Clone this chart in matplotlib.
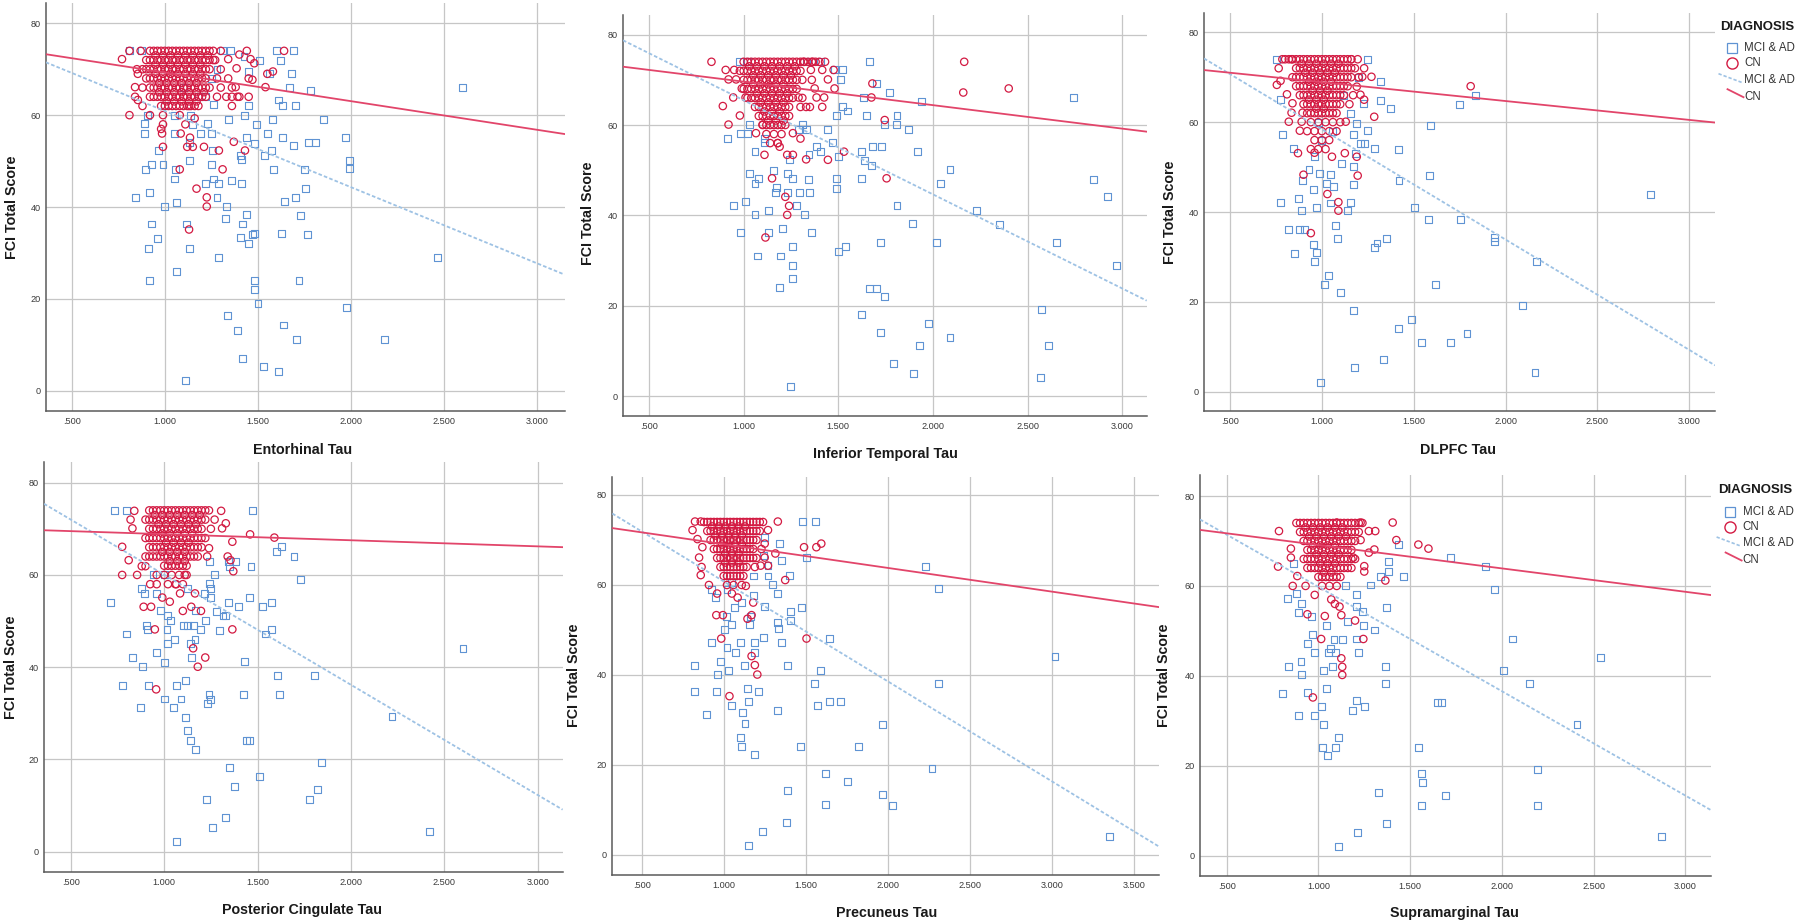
import numpy as np
import matplotlib
matplotlib.use("Agg")
import matplotlib.pyplot as plt
from matplotlib.lines import Line2D

plt.rcParams['font.family'] = ['Liberation Sans', 'DejaVu Sans']

W, H = 1800, 923

# ---------------- data ----------------
x_labels = ["Entorhinal Tau", "Inferior Temporal Tau", "DLPFC Tau",
            "Posterior Cingulate Tau", "Precuneus Tau", "Supramarginal Tau"]
y_label = "FCI Total Score"
legend_title = "DIAGNOSIS"
groups = ["MCI & AD", "CN"]
y_ticks = [0, 20, 40, 60, 80]
x_ticks_a = [0.5, 1.0, 1.5, 2.0, 2.5, 3.0]
x_ticks_b = [0.5, 1.0, 1.5, 2.0, 2.5, 3.0, 3.5]

# Panel 1: Entorhinal
mci_1 = [(2.60,66.1),(2.465,29.0),(2.18,11.2),(1.977,18.1),(1.99,48.4),(1.99,50.2),(1.97,55.1),(1.85,59.0),
         (1.78,65.3),(1.81,54.1),(1.77,54.1),(1.75,48.2),(1.755,44.0),(1.73,38.2),(1.765,34.1),(1.72,23.9),
         (1.705,11.2),(1.70,42.1),(1.69,53.3),(1.70,62.0),(1.68,69.0),(1.69,74.0),(1.67,66.1),(1.636,14.3),
         (1.625,34.3),(1.64,41.1),(1.63,55.1),(1.63,62.0),(1.61,63.3),(1.61,4.1),(1.585,48.2),(1.57,52.2),
         (1.58,59.0),(1.62,71.8),(1.60,74.0),(1.55,56.0),(1.53,5.2),(1.535,51.3),(1.50,19.0),(1.48,22.0),
         (1.48,23.9),(1.48,34.3),(1.49,58.0),(1.48,53.9),(1.51,71.8),(1.47,34.0),(1.45,32.1),(1.44,38.3),
         (1.415,7.0),(1.405,33.3),(1.415,36.3),(1.41,45.2),(1.41,50.4),(1.405,51.3),(1.44,55.1),(1.43,60.0),
         (1.45,62.0),(1.39,13.2),(1.36,45.7),(1.335,16.3),(1.33,40.1),(1.325,37.4),(1.29,29.0),(1.28,42.1),
         (1.29,45.2),(1.26,46.1),(1.25,49.3),(1.25,56.0),(1.257,52.3),(1.22,45.2),(1.13,50.2),(1.13,31.0),
         (1.117,36.3),(1.11,2.2),(1.06,25.9),(1.065,41.0),(1.05,46.1),(1.055,48.2),(0.996,40.1),(0.99,49.3),
         (0.967,52.3),(0.96,33.2),(0.93,36.3),(0.92,43.1),(0.91,31.0),(0.92,23.9),(0.93,49.3),(0.897,48.2),
         (0.84,42.1),(0.89,58.1),(0.89,56.0),(0.907,60.0),(1.14,60.0),(1.13,54.0),(1.19,56.0),(1.15,58.0),
         (1.05,56.0),(1.35,74.0),(1.31,74.0),(1.34,59.0),(1.26,62.4),(1.22,64.0),(1.23,58.2),(0.81,74.0),
         (0.876,74.0),(1.45,69.6),(1.56,69.0),(1.425,72.7),(1.00,62.0),(1.05,60.0),(1.18,64.0),(1.25,68.0),
         (1.28,70.0),(1.10,66.0)]
cn_1 = [(0.77,72.2),(0.81,74.0),(0.87,74.0),(0.84,66.1),(0.84,64.0),(0.855,63.3),(0.88,62.0),(0.81,60.0),
        (0.85,70.0),(0.855,69.0),(0.92,60.0),(0.99,60.0),(0.99,58.0),(0.985,56.0),(0.99,53.1),(0.98,57.0),
        (1.08,60.0),(1.085,56.0),(1.08,48.2),(1.12,53.1),(1.135,55.1),(1.11,58.0),(1.10,64.0),(1.13,62.0),
        (1.15,53.1),(1.21,53.1),(1.16,59.3),(1.17,44.0),(1.225,42.1),(1.225,40.1),(1.13,35.1),(1.29,52.3),
        (1.31,48.2),(1.37,54.2),(1.43,52.3),(1.36,62.0),(1.36,64.0),(1.39,64.0),(1.45,64.0),(1.38,66.1),
        (1.45,68.0),(1.47,67.7),(1.55,69.0),(1.58,69.5),(1.54,66.1),(1.44,74.0),(1.40,73.2),(1.46,72.2),
        (1.48,71.3),(1.64,74.0),(1.385,70.2),(1.34,72.2),(1.30,74.0),(1.26,74.0),(1.27,72.0)]
cn_rows_1 = {
    74: [0.92,0.94,0.96,0.98,1.00,1.02,1.04,1.06,1.08,1.10,1.12,1.14,1.16,1.18,1.20,1.22,1.24],
    73: [0.95,0.99,1.03,1.07,1.11,1.15,1.19,1.23],
    72: [0.90,0.92,0.94,0.96,0.98,1.00,1.02,1.04,1.06,1.08,1.10,1.12,1.14,1.16,1.18,1.20,1.22,1.24,1.26],
    71: [0.95,0.99,1.03,1.07,1.11,1.15,1.19],
    70: [0.88,0.90,0.92,0.94,0.96,0.98,1.00,1.02,1.04,1.06,1.08,1.10,1.12,1.14,1.16,1.18,1.20,1.22,1.24,1.30],
    69: [0.95,0.99,1.03,1.07,1.11,1.15,1.19],
    68: [0.90,0.92,0.94,0.96,0.98,1.00,1.02,1.04,1.06,1.08,1.10,1.12,1.14,1.16,1.18,1.20,1.22,1.28,1.34],
    67: [0.97,1.01,1.05,1.09,1.13,1.17],
    66: [0.88,0.92,0.94,0.96,0.98,1.00,1.02,1.04,1.06,1.08,1.10,1.12,1.14,1.16,1.18,1.20,1.22,1.24,1.30,1.36],
    65: [0.97,1.01,1.05,1.09,1.13,1.17,1.21],
    64: [0.92,0.94,0.96,0.98,1.00,1.02,1.04,1.06,1.08,1.10,1.12,1.14,1.16,1.18,1.20,1.22,1.28,1.33,1.40],
    63: [1.01,1.05,1.09,1.13,1.17],
    62: [0.98,1.00,1.02,1.04,1.06,1.08,1.10,1.12,1.14,1.16,1.18]}
fit_mci_1 = [(0.5, 69.2), (3.0, 27.7)]
fit_cn_1 = [(0.5, 72.4), (3.0, 56.8)]

# Panel 2: Inferior Temporal
mci_2 = [(2.74,66.1),(2.85,48.0),(2.92,44.1),(2.97,29.0),(2.65,34.0),(2.61,11.1),(2.575,19.2),(2.57,4.1),
         (2.35,38.0),(2.23,41.0),(2.09,50.2),(2.04,47.1),(2.02,34.0),(1.975,16.1),(2.09,13.0),(1.93,11.1),
         (1.895,5.0),(1.89,38.1),(1.92,54.1),(1.94,65.2),(1.87,59.0),(1.81,42.1),(1.81,62.1),(1.805,60.1),
         (1.745,60.1),(1.77,67.2),(1.79,7.1),(1.745,22.1),(1.725,14.1),(1.725,34.0),(1.70,23.8),(1.665,23.8),
         (1.73,55.2),(1.68,55.2),(1.675,51.1),(1.64,52.1),(1.62,54.1),(1.62,18.1),(1.62,48.2),(1.65,62.1),
         (1.665,74.0),(1.70,69.2),(1.635,66.1),(1.54,33.1),(1.50,32.0),(1.49,46.0),(1.49,48.2),(1.50,53.1),
         (1.47,56.1),(1.55,63.1),(1.52,64.2),(1.49,62.1),(1.51,70.1),(1.52,72.2),(1.48,72.2),(1.445,59.0),
         (1.405,54.1),(1.385,55.2),(1.36,36.2),(1.35,45.1),(1.345,53.4),(1.34,48.0),(1.33,59.0),(1.31,60.1),
         (1.32,40.1),(1.28,42.1),(1.257,26.1),(1.26,29.0),(1.26,33.1),(1.247,2.1),(1.295,45.1),(1.23,45.1),
         (1.26,48.2),(1.23,49.2),(1.24,52.3),(1.205,37.1),(1.195,31.0),(1.19,24.0),(1.17,45.1),(1.175,46.2),
         (1.16,50.0),(1.13,41.0),(1.13,36.2),(1.075,31.0),(1.06,40.1),(1.06,47.1),(1.03,49.2),(1.08,48.2),
         (1.01,43.0),(0.985,36.2),(0.945,42.1),(0.915,57.0),(0.985,58.2),(1.02,58.2),(1.03,60.1),(1.06,54.1),
         (1.11,56.1),(1.11,57.0),(1.29,59.0),(0.98,74.0),(1.02,74.0),(1.405,74.0),(1.33,74.0)]
cn_2 = [(0.83,74.0),(0.905,72.2),(0.95,72.2),(0.92,70.1),(0.96,70.1),(0.945,66.1),(0.89,64.2),(0.98,62.1),
        (0.92,60.1),(0.99,68.1),(1.01,66.1),(1.065,58.2),(1.11,53.4),(1.10,60.1),(1.15,48.2),(1.18,56.0),
        (1.19,55.2),(1.115,35.1),(1.22,44.1),(1.24,42.1),(1.23,40.1),(1.23,53.4),(1.26,53.4),(1.30,57.0),
        (1.33,52.4),(1.445,52.3),(1.26,58.2),(1.33,64.0),(1.35,64.0),(1.29,66.1),(1.385,66.1),(1.425,66.1),
        (1.415,64.0),(1.375,68.1),(1.48,68.1),(1.445,70.1),(1.415,72.2),(1.355,72.2),(1.475,72.2),(1.43,74.0),
        (1.365,74.0),(1.315,74.0),(1.53,54.1),(1.675,66.1),(1.68,69.2),(1.745,61.1),(1.755,48.2),(2.16,67.2),
        (2.165,74.0),(2.40,68.1)]
cn_rows_2 = {
    74: [1.00,1.02,1.04,1.06,1.08,1.10,1.12,1.14,1.16,1.18,1.20,1.22,1.24,1.26,1.28,1.30,1.32,1.34,1.36,1.38,1.40],
    73: [1.03,1.07,1.11,1.15,1.19,1.23,1.27],
    72: [0.98,1.00,1.02,1.04,1.06,1.08,1.10,1.12,1.14,1.16,1.18,1.20,1.22,1.24,1.26,1.28,1.30],
    71: [1.05,1.09,1.13,1.17,1.21,1.25],
    70: [1.00,1.02,1.04,1.06,1.08,1.10,1.12,1.14,1.16,1.18,1.20,1.22,1.24,1.26,1.28,1.31,1.36],
    69: [1.05,1.09,1.13,1.17,1.21],
    68: [1.00,1.02,1.04,1.06,1.08,1.10,1.12,1.14,1.16,1.18,1.20,1.22,1.24,1.26,1.28],
    67: [1.07,1.11,1.15,1.19,1.23],
    66: [1.02,1.04,1.06,1.08,1.10,1.12,1.14,1.16,1.18,1.20,1.22,1.24,1.26,1.31],
    65: [1.09,1.13,1.17,1.21],
    64: [1.06,1.08,1.10,1.12,1.14,1.16,1.18,1.20,1.22,1.24,1.30],
    63: [1.11,1.15,1.19],
    62: [1.08,1.10,1.12,1.14,1.16,1.18,1.20,1.22,1.24],
    61: [1.13,1.17,1.21],
    60: [1.10,1.12,1.14,1.16,1.18,1.20,1.22],
    58: [1.12,1.16,1.20],
    56: [1.14,1.18]}
fit_mci_2 = [(0.5, 75.9), (3.0, 23.8)]
fit_cn_2 = [(0.5, 72.2), (3.0, 59.2)]

# Panel 3: DLPFC
mci_3 = [(2.79,44.0),(2.17,29.0),(2.16,4.2),(2.09,19.1),(1.94,34.3),(1.94,33.5),(1.79,13.0),(1.755,38.3),
         (1.75,64.0),(1.835,66.0),(1.70,11.0),(1.62,23.9),(1.585,48.1),(1.59,59.2),(1.58,38.3),(1.54,11.0),
         (1.49,16.0),(1.505,41.1),(1.42,47.1),(1.415,54.0),(1.415,14.0),(1.375,63.1),(1.32,64.9),(1.32,69.0),
         (1.285,54.2),(1.35,34.0),(1.30,33.1),(1.285,32.0),(1.335,7.1),(1.18,5.3),(1.17,18.0),(1.10,22.1),
         (1.035,25.9),(1.015,23.9),(0.995,2.1),(0.96,29.0),(0.97,31.0),(0.955,32.8),(0.85,30.8),(0.82,36.2),
         (0.88,36.2),(0.905,36.0),(0.775,42.1),(0.875,43.1),(0.89,40.3),(0.97,41.0),(1.075,37.1),(1.087,34.1),
         (1.045,42.0),(1.14,40.3),(1.155,42.1),(1.17,46.2),(0.955,45.1),(0.895,47.1),(0.93,49.4),(1.025,46.4),
         (1.045,48.3),(1.17,50.1),(1.185,53.1),(0.785,57.2),(0.775,65.0),(0.845,54.2),(1.23,55.2),(1.21,55.3),
         (1.25,58.1),(1.19,59.7),(1.17,57.2),(1.225,64.1),(1.155,62.0),(1.25,74.0),(0.755,74.0),(1.105,50.9),
         (1.065,45.7),(0.985,48.6),(0.96,52.3),(1.00,56.0),(1.06,58.0),(0.98,60.0),(1.12,66.0),(1.20,70.0)]
cn_3 = [(0.765,72.0),(0.755,68.3),(0.775,69.2),(0.81,66.2),(0.84,64.2),(0.82,60.1),(0.835,62.1),(0.895,62.1),
        (0.89,60.1),(0.88,58.1),(0.87,53.1),(0.96,53.2),(0.90,48.3),(0.94,35.3),(1.055,52.3),(1.125,53.1),
        (1.195,48.1),(1.19,52.3),(1.09,42.2),(1.09,40.3),(1.03,44.0),(1.13,60.1),(1.285,61.2),(1.21,66.1),
        (1.23,65.0),(1.19,67.9),(1.22,70.1),(1.23,72.0),(1.27,70.1),(1.195,74.0),(1.16,74.0),(1.81,68.0),
        (0.785,74.0),(0.835,74.0)]
cn_rows_3 = {
    74: [0.80,0.82,0.84,0.86,0.88,0.90,0.92,0.94,0.96,0.98,1.00,1.02,1.04,1.06,1.08,1.10,1.12,1.14,1.16],
    73: [0.89,0.93,0.97,1.01,1.05,1.09],
    72: [0.86,0.88,0.90,0.92,0.94,0.96,0.98,1.00,1.02,1.04,1.06,1.08,1.10,1.12,1.14,1.16,1.18],
    71: [0.91,0.95,0.99,1.03,1.07],
    70: [0.84,0.86,0.88,0.90,0.92,0.94,0.96,0.98,1.00,1.02,1.04,1.06,1.08,1.10,1.12,1.14,1.16,1.20],
    69: [0.93,0.97,1.01,1.05],
    68: [0.86,0.88,0.90,0.92,0.94,0.96,0.98,1.00,1.02,1.04,1.06,1.08,1.10,1.12,1.14],
    67: [0.95,0.99,1.03],
    66: [0.88,0.90,0.92,0.94,0.96,0.98,1.00,1.02,1.04,1.06,1.08,1.10,1.12,1.17],
    65: [0.93,0.97,1.01],
    64: [0.90,0.92,0.94,0.96,0.98,1.00,1.02,1.04,1.06,1.08,1.10,1.15],
    63: [0.97,1.01],
    62: [0.92,0.94,0.96,0.98,1.00,1.02,1.04,1.06,1.08],
    60: [0.94,0.98,1.02,1.06,1.10],
    58: [0.92,0.96,1.00,1.04,1.08],
    56: [0.96,1.00,1.04],
    54: [0.94,0.98,1.02]}
fit_mci_3 = [(0.5, 70.7), (3.0, 9.3)]
fit_cn_3 = [(0.5, 71.0), (3.0, 60.5)]

# Panel 4: Posterior Cingulate
mci_4 = [(2.60,44.1),(2.22,29.3),(2.42,4.3),(1.84,19.3),(1.82,13.4),(1.78,11.3),(1.805,38.1),(1.73,59.0),
         (1.695,64.1),(1.63,66.1),(1.60,65.0),(1.62,34.1),(1.605,38.1),(1.575,54.0),(1.575,48.2),(1.54,47.2),
         (1.525,53.1),(1.51,16.3),(1.465,61.9),(1.455,55.1),(1.475,73.9),(1.44,24.2),(1.455,24.2),(1.43,41.2),
         (1.425,34.1),(1.375,14.2),(1.35,18.2),(1.33,7.4),(1.345,54.0),(1.35,61.9),(1.345,63.0),(1.33,51.3),
         (1.26,5.3),(1.225,11.3),(1.25,32.9),(1.24,34.1),(1.23,32.2),(1.22,50.2),(1.25,55.1),(1.27,60.1),
         (1.245,58.2),(1.245,62.9),(1.17,22.2),(1.14,24.2),(1.125,26.2),(1.115,29.0),(1.115,37.2),(1.09,33.1),
         (1.065,36.1),(1.065,2.3),(1.05,31.2),(1.00,33.1),(1.00,41.0),(0.96,43.1),(0.915,36.1),(0.875,31.2),
         (0.885,40.1),(0.83,42.1),(0.775,36.1),(0.80,47.2),(0.715,54.0),(0.735,73.9),(0.80,73.9),(0.91,48.2),
         (0.905,49.1),(0.88,57.1),(0.895,56.0),(0.96,56.0),(0.98,52.2),(1.02,51.3),(1.035,50.2),(1.015,48.2),
         (1.02,45.2),(1.055,46.1),(1.105,49.1),(1.125,49.1),(1.14,45.2),(1.165,46.1),(1.155,49.1),(1.197,48.2),
         (1.17,52.2),(1.217,56.0),(1.248,57.1),(1.145,42.1),(1.125,57.1),(1.295,48.0),(1.315,51.1),(1.28,52.0),
         (1.38,63.0),(1.40,53.1),(1.00,60.0),(0.94,60.0)]
cn_4 = [(0.84,73.9),(0.82,72.0),(0.83,70.1),(0.775,66.1),(0.81,63.2),(0.88,61.9),(0.90,61.9),(0.775,60.0),
        (0.855,60.0),(0.89,53.1),(0.93,53.1),(0.957,35.2),(0.95,48.2),(0.925,58.0),(0.96,58.0),(0.99,55.1),
        (1.03,54.2),(1.085,56.0),(1.10,58.0),(1.11,60.0),(1.065,58.0),(1.10,52.2),(1.145,53.1),(1.165,56.0),
        (1.155,44.1),(1.22,42.1),(1.18,40.1),(1.197,52.2),(1.23,64.0),(1.24,65.8),(1.27,72.0),(1.305,73.9),
        (1.31,70.1),(1.33,71.2),(1.34,64.0),(1.355,63.2),(1.37,60.8),(1.365,48.2),(1.365,67.2),(1.46,68.8),
        (1.59,68.1)]
cn_rows_4 = {
    74: [0.92,0.94,0.96,0.98,1.00,1.02,1.04,1.06,1.08,1.10,1.12,1.14,1.16,1.18,1.20,1.22,1.24],
    73: [0.95,0.99,1.03,1.07,1.11,1.15,1.19],
    72: [0.90,0.92,0.94,0.96,0.98,1.00,1.02,1.04,1.06,1.08,1.10,1.12,1.14,1.16,1.18,1.20,1.22],
    71: [0.97,1.01,1.05,1.09,1.13,1.17],
    70: [0.92,0.94,0.96,0.98,1.00,1.02,1.04,1.06,1.08,1.10,1.12,1.14,1.16,1.18,1.20,1.25],
    69: [0.99,1.03,1.07,1.11,1.15],
    68: [0.90,0.92,0.94,0.96,0.98,1.00,1.02,1.04,1.06,1.08,1.10,1.12,1.14,1.16,1.18,1.20,1.22],
    67: [1.01,1.05,1.09,1.13],
    66: [0.92,0.94,0.96,0.98,1.00,1.02,1.04,1.06,1.08,1.10,1.12,1.14,1.16,1.18,1.20],
    65: [0.99,1.03,1.07,1.11],
    64: [0.90,0.92,0.94,0.96,0.98,1.00,1.02,1.04,1.06,1.08,1.10,1.12,1.14,1.16,1.18],
    63: [1.03,1.07,1.11],
    62: [1.00,1.02,1.04,1.06,1.08,1.10,1.12],
    60: [0.96,1.00,1.04,1.08,1.12],
    58: [1.02,1.06]}
fit_mci_4 = [(0.5, 72.0), (3.0, 12.3)]
fit_cn_4 = [(0.5, 69.5), (3.0, 66.2)]

# Panel 5: Precuneus
mci_5 = [(3.35,4.2),(3.02,44.2),(2.31,59.2),(2.31,38.1),(2.23,64.1),(2.27,19.3),(2.03,11.1),(1.97,13.4),
         (1.97,29.1),(1.82,24.1),(1.755,16.3),(1.71,34.2),(1.645,34.2),(1.62,18.2),(1.62,11.3),(1.57,33.2),
         (1.59,41.0),(1.555,38.1),(1.645,48.1),(1.47,24.1),(1.475,55.0),(1.505,66.1),(1.48,74.1),(1.56,74.1),
         (1.405,54.1),(1.41,52.2),(1.40,62.2),(1.39,42.2),(1.39,14.3),(1.385,7.3),(1.33,32.2),(1.35,47.2),
         (1.335,50.3),(1.33,51.6),(1.33,58.1),(1.30,60.2),(1.35,65.4),(1.34,69.2),(1.27,62.0),(1.235,5.3),
         (1.24,48.3),(1.25,55.3),(1.215,36.3),(1.19,45.1),(1.185,22.3),(1.15,2.2),(1.13,29.2),(1.117,31.6),
         (1.15,34.2),(1.145,37.1),(1.11,24.1),(1.105,26.2),(1.125,42.2),(1.05,33.2),(1.03,41.1),(0.98,43.1),
         (0.965,40.1),(0.955,36.3),(0.895,31.2),(0.82,42.2),(0.82,36.3),(0.925,47.2),(1.02,46.1),(1.07,45.1),
         (1.10,47.2),(1.19,47.2),(1.005,50.1),(1.05,51.3),(1.155,51.3),(1.165,53.1),(1.015,53.1),(1.065,55.0),
         (1.11,56.1),(1.18,57.6),(0.95,57.2),(0.925,59.1),(1.02,59.1),(1.05,60.5),(1.18,62.0),(1.27,64.3),
         (1.24,66.5),(1.25,70.6)]
cn_5 = [(0.81,72.2),(0.825,74.1),(0.86,74.1),(0.84,70.2),(0.87,68.4),(0.85,66.1),(0.865,64.0),(0.86,62.2),
        (0.91,60.0),(0.96,58.1),(0.955,53.3),(0.995,53.3),(0.985,48.1),(1.035,35.3),(1.17,44.2),(1.19,42.2),
        (1.205,40.1),(1.18,56.1),(1.17,53.3),(1.145,52.5),(1.085,57.2),(1.05,58.1),(1.135,59.8),(1.11,60.0),
        (1.375,61.1),(1.505,48.1),(1.49,68.4),(1.565,68.4),(1.595,69.2),(1.33,74.1),(1.27,72.2),(1.25,69.2),
        (1.27,64.3),(1.225,64.3),(1.25,66.1),(1.315,67.0)]
cn_rows_5 = {
    74: [0.88,0.90,0.92,0.94,0.96,0.98,1.00,1.02,1.04,1.06,1.08,1.10,1.12,1.14,1.16,1.18,1.20,1.22,1.24],
    73: [0.93,0.97,1.01,1.05,1.09,1.13],
    72: [0.90,0.92,0.94,0.96,0.98,1.00,1.02,1.04,1.06,1.08,1.10,1.12,1.14,1.16,1.18,1.20,1.22],
    71: [0.95,0.99,1.03,1.07,1.11],
    70: [0.92,0.94,0.96,0.98,1.00,1.02,1.04,1.06,1.08,1.10,1.12,1.14,1.16,1.18,1.20],
    69: [0.99,1.03,1.07,1.11],
    68: [0.94,0.96,0.98,1.00,1.02,1.04,1.06,1.08,1.10,1.12,1.14,1.16,1.18,1.23],
    67: [1.01,1.05,1.09],
    66: [0.96,0.98,1.00,1.02,1.04,1.06,1.08,1.10,1.12,1.14,1.16,1.18,1.20],
    65: [1.01,1.05,1.09],
    64: [0.98,1.00,1.02,1.04,1.06,1.08,1.10,1.12,1.14,1.19],
    62: [1.00,1.02,1.04,1.06,1.08,1.10,1.12],
    60: [1.02,1.06]}
fit_mci_5 = [(0.5, 71.9), (3.5, 5.3)]
fit_cn_5 = [(0.5, 71.7), (3.5, 55.9)]

# Panel 6: Supramarginal
mci_6 = [(2.87,4.2),(2.54,44.0),(2.41,29.1),(2.195,19.2),(2.195,11.1),(2.15,38.2),(2.06,48.2),(2.01,41.1),
         (1.96,59.1),(1.91,64.3),(1.72,66.3),(1.695,13.3),(1.67,34.1),(1.65,34.1),(1.57,16.2),(1.56,18.3),
         (1.56,11.1),(1.545,24.1),(1.465,62.2),(1.435,69.2),(1.37,7.2),(1.365,42.0),(1.365,38.2),(1.37,55.2),
         (1.38,63.2),(1.38,65.4),(1.34,62.2),(1.305,50.2),(1.285,60.2),(1.33,14.1),(1.25,33.1),(1.245,51.3),
         (1.24,54.3),(1.21,34.6),(1.22,45.1),(1.21,48.2),(1.21,58.0),(1.185,32.2),(1.215,5.1),(1.11,26.2),
         (1.095,24.1),(1.11,2.1),(1.05,22.2),(1.02,24.1),(1.03,29.1),(1.015,33.1),(1.045,37.2),(0.98,31.1),
         (0.89,31.1),(0.94,36.2),(0.805,36.1),(0.835,42.0),(0.91,40.2),(0.905,43.1),(1.03,41.1),(1.075,42.0),
         (1.055,45.1),(1.095,45.1),(0.98,45.1),(0.94,47.2),(0.97,49.2),(1.085,48.0),(1.065,46.1),(1.13,48.0),
         (0.83,57.2),(0.89,54.1),(0.91,56.0),(0.96,53.2),(1.045,51.3),(0.88,58.3),(1.21,55.4),(1.15,60.0),
         (1.16,52.0),(0.865,65.0)]
cn_6 = [(0.785,72.2),(0.78,64.3),(0.85,68.3),(0.85,66.3),(0.86,60.0),(0.885,62.2),(0.93,60.0),(0.98,58.0),
        (0.94,53.7),(1.015,48.2),(0.97,35.2),(1.035,53.3),(1.09,56.0),(1.07,57.0),(1.115,55.4),(1.125,53.5),
        (1.125,43.9),(1.13,42.0),(1.13,40.2),(1.20,52.3),(1.245,48.2),(1.25,63.2),(1.25,64.4),(1.19,66.3),
        (1.275,67.4),(1.305,68.1),(1.31,72.2),(1.275,72.2),(1.23,70.2),(1.365,61.2),(1.405,74.1),(1.425,70.2),
        (1.545,69.2),(1.60,68.3),(1.10,74.1),(1.23,74.1)]
cn_rows_6 = {
    74: [0.88,0.90,0.92,0.94,0.96,0.98,1.00,1.02,1.04,1.06,1.08,1.10,1.12,1.14,1.16,1.18,1.20,1.22,1.24],
    73: [0.93,0.97,1.01,1.05,1.09,1.13],
    72: [0.90,0.92,0.94,0.96,0.98,1.00,1.02,1.04,1.06,1.08,1.10,1.12,1.14,1.16,1.18,1.20,1.22],
    71: [0.95,0.99,1.03,1.07,1.11,1.15],
    70: [0.92,0.94,0.96,0.98,1.00,1.02,1.04,1.06,1.08,1.10,1.12,1.14,1.16,1.18,1.20],
    69: [0.97,1.01,1.05,1.09],
    68: [0.94,0.96,0.98,1.00,1.02,1.04,1.06,1.08,1.10,1.12,1.14,1.16,1.18],
    67: [0.99,1.03,1.07,1.11],
    66: [0.92,0.94,0.96,0.98,1.00,1.02,1.04,1.06,1.08,1.10,1.12,1.14,1.16,1.18,1.20],
    65: [1.01,1.05,1.09],
    64: [0.94,0.96,0.98,1.00,1.02,1.04,1.06,1.08,1.10,1.12,1.14,1.16,1.18],
    63: [1.03,1.07],
    62: [1.00,1.02,1.04,1.06,1.08,1.10,1.12],
    60: [1.02,1.06,1.10]}
fit_mci_6 = [(0.5, 71.4), (3.0, 13.4)]
fit_cn_6 = [(0.5, 71.7), (3.0, 58.7)]

# ---------------- layout (pixels) ----------------
layouts = [
    dict(L=45.8, R=564.5, T=3, B=410.7, xa=(0.5, 71.7), xb=(2.5, 444.3), y0=390.7, y80=23.3,
         ylab=(12, 207), xlab=(303, 450)),
    dict(L=623, R=1146.7, T=15, B=416, xa=(0.5, 649), xb=(3.0, 1122.3), y0=396, y80=34.7,
         ylab=(587.5, 213), xlab=(885, 454)),
    dict(L=1204, R=1715, T=13, B=411, xa=(0.5, 1230), xb=(3.0, 1689.3), y0=391.7, y80=32.3,
         ylab=(1169.5, 212), xlab=(1458, 450)),
    dict(L=44, R=562.6, T=462, B=871.7, xa=(0.5, 70.8), xb=(3.0, 537.7), y0=851.7, y80=482.7,
         ylab=(11, 667), xlab=(302, 910)),
    dict(L=612.3, R=1158.5, T=476.7, B=875, xa=(0.5, 641.7), xb=(3.0, 1051.7), y0=855, y80=495,
         ylab=(574, 675), xlab=(886.7, 913)),
    dict(L=1200, R=1711, T=475, B=875.7, xa=(0.5, 1226.7), xb=(3.0, 1685.2), y0=855.7, y80=496,
         ylab=(1164.5, 675), xlab=(1454.5, 913)),
]

panels = [
    (mci_1, cn_1, cn_rows_1, fit_mci_1, fit_cn_1, x_ticks_a),
    (mci_2, cn_2, cn_rows_2, fit_mci_2, fit_cn_2, x_ticks_a),
    (mci_3, cn_3, cn_rows_3, fit_mci_3, fit_cn_3, x_ticks_a),
    (mci_4, cn_4, cn_rows_4, fit_mci_4, fit_cn_4, x_ticks_a),
    (mci_5, cn_5, cn_rows_5, fit_mci_5, fit_cn_5, x_ticks_b),
    (mci_6, cn_6, cn_rows_6, fit_mci_6, fit_cn_6, x_ticks_a),
]

BLUE = '#5f93d3'
RED = '#d31a42'
CN_LINE = '#e2456a'
MCI_LINE = '#9ec2e4'
GRID = '#c6c6c6'
SPINE = '#5a5a5a'
TICKC = '#3a3a3a'


def fx(px):
    return px / W


def fy(py):
    return 1 - py / H


def fmt_tick(v):
    return f"{v:.3f}".lstrip("0")


fig = plt.figure(figsize=(W / 100, H / 100), dpi=100)
fig.patch.set_facecolor('white')

for i, (lay, (mci, cn, rows, fm, fc, xt)) in enumerate(zip(layouts, panels)):
    L, R, T, B = lay['L'], lay['R'], lay['T'], lay['B']
    ax = fig.add_axes([fx(L), fy(B), (R - L) / W, (B - T) / H])
    (va, pa), (vb, pb) = lay['xa'], lay['xb']
    sx = (pb - pa) / (vb - va)
    xmin = va + (L - pa) / sx
    xmax = va + (R - pa) / sx
    sy = (lay['y0'] - lay['y80']) / 80.0
    ymin = (lay['y0'] - B) / sy
    ymax = (lay['y0'] - T) / sy
    ax.set_xlim(xmin, xmax)
    ax.set_ylim(ymin, ymax)

    ax.set_xticks(xt)
    ax.set_xticklabels([fmt_tick(v) for v in xt])
    ax.set_yticks(y_ticks)
    ax.set_yticklabels([str(v) for v in y_ticks])
    ax.tick_params(axis='both', length=0, labelsize=6.6, colors=TICKC)
    ax.tick_params(axis='x', pad=4.2)
    ax.tick_params(axis='y', pad=3.8)
    ax.grid(True, color=GRID, lw=0.9, zorder=0)
    ax.set_axisbelow(True)
    for s in ['top', 'right']:
        ax.spines[s].set_visible(False)
    for s in ['left', 'bottom']:
        ax.spines[s].set_color(SPINE)
        ax.spines[s].set_linewidth(1.1)

    mx = [p[0] for p in mci]
    my = [p[1] for p in mci]
    ax.scatter(mx, my, marker='s', s=25, facecolors='none', edgecolors=BLUE,
               linewidths=0.8, zorder=2, clip_on=False)

    cx = [p[0] for p in cn]
    cy = [p[1] for p in cn]
    for yv, xs in rows.items():
        cx.extend(xs)
        cy.extend([yv] * len(xs))
    ax.scatter(cx, cy, marker='o', s=28, facecolors='none', edgecolors=RED,
               linewidths=0.9, zorder=3, clip_on=False)

    xx = np.array([xmin, xmax])
    km, bm = np.polyfit([p[0] for p in fm], [p[1] for p in fm], 1)
    kc, bc = np.polyfit([p[0] for p in fc], [p[1] for p in fc], 1)
    ax.plot(xx, km * xx + bm, color=MCI_LINE, lw=1.3, ls=(0, (2.0, 1.2)), zorder=4)
    ax.plot(xx, kc * xx + bc, color=CN_LINE, lw=1.3, zorder=5)

    fig.text(fx(lay['xlab'][0]), fy(lay['xlab'][1]), x_labels[i], ha='center', va='center',
             fontsize=10.3, fontweight='bold', color='#1a1a1a')
    fig.text(fx(lay['ylab'][0]), fy(lay['ylab'][1]), y_label, ha='center', va='center',
             rotation=90, fontsize=10.3, fontweight='bold', color='#1a1a1a')


def draw_legend(x0, y0):
    fig.text(fx(x0), fy(y0), legend_title, ha='left', va='center', fontsize=9.5,
             fontweight='bold', color='#1a1a1a')
    tx = x0 + 24
    mxp = x0 + 11
    fig.add_artist(Line2D([fx(mxp)], [fy(y0 + 21.6)], marker='s', markersize=7.5,
                          markerfacecolor='none', markeredgecolor=BLUE, markeredgewidth=0.9,
                          linestyle='none', transform=fig.transFigure))
    fig.text(fx(tx), fy(y0 + 21.6), groups[0], ha='left', va='center', fontsize=8.3, color='#333333')
    fig.add_artist(Line2D([fx(mxp)], [fy(y0 + 36.6)], marker='o', markersize=8,
                          markerfacecolor='none', markeredgecolor=RED, markeredgewidth=1.0,
                          linestyle='none', transform=fig.transFigure))
    fig.text(fx(tx), fy(y0 + 36.6), groups[1], ha='left', va='center', fontsize=8.3, color='#333333')
    fig.add_artist(Line2D([fx(x0 - 2), fx(x0 + 22)], [fy(y0 + 47), fy(y0 + 56)],
                          color=MCI_LINE, lw=1.2, ls=(0, (2.0, 1.2)), transform=fig.transFigure))
    fig.text(fx(tx), fy(y0 + 53.3), groups[0], ha='left', va='center', fontsize=8.3, color='#333333')
    fig.add_artist(Line2D([fx(x0 + 7), fx(x0 + 23)], [fy(y0 + 62.5), fy(y0 + 70.5)],
                          color=CN_LINE, lw=1.3, transform=fig.transFigure))
    fig.text(fx(tx), fy(y0 + 70), groups[1], ha='left', va='center', fontsize=8.3, color='#333333')


draw_legend(1720.5, 26.7)
draw_legend(1718.6, 490)

fig.savefig('out.png', dpi=100, facecolor='white')
